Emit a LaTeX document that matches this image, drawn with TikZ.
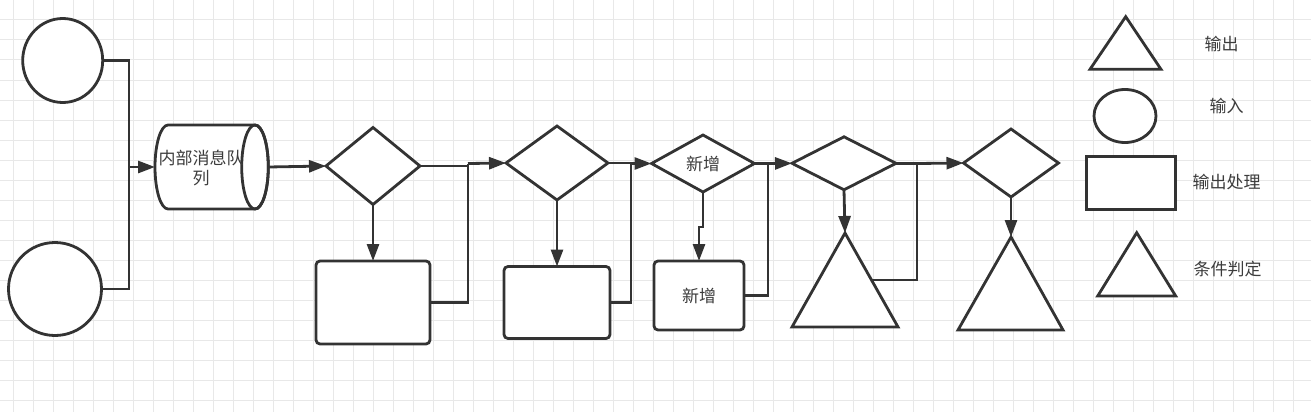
\documentclass[tikz,border=0pt]{standalone}
\usepackage{fontspec}
\newfontfamily\cjk{Noto Sans CJK SC}
\usetikzlibrary{shapes.geometric,arrows.meta,calc}
\definecolor{ink}{HTML}{333333}
\definecolor{txt}{HTML}{3C3C3C}
\definecolor{gridc}{HTML}{E8E8E8}
\begin{document}
\begin{tikzpicture}[x=1pt,y=-1pt,
  shp/.style={draw=ink, line width=2.8pt, fill=white, inner sep=0pt, outer sep=0pt},
  dia/.style={shp, diamond},
  box/.style={shp, rectangle, rounded corners=4pt},
  conn/.style={draw=ink, line width=2.8pt},
  arr/.style={conn, -{Triangle[length=17pt,width=12pt]}},
  tri/.style={conn, fill=white, line join=miter},
  lbl/.style={font=\cjk\fontsize{17}{20}\selectfont, text=txt, inner sep=0pt},
]
% background and grid
\fill[white] (0,0) rectangle (1311,412);
\useasboundingbox (0,0) rectangle (1311,412);
\foreach \i in {0,...,64} \draw[gridc, line width=1pt] ({13.3+20*\i},0) -- ++(0,412);
\foreach \j in {1,...,20} \draw[gridc, line width=1pt] (0,{20*\j}) -- ++(1311,0);

% inputs
\node[shp, ellipse, minimum width=80, minimum height=84] (in1) at (62.7,60.5) {};
\node[shp, ellipse, minimum width=93, minimum height=93] (in2) at (55,289) {};

% queue (horizontal cylinder)
\draw[conn, fill=white] (255,125) -- (168,125)
  arc[start angle=270, end angle=90, x radius=13, y radius=42] -- (255,209)
  arc[start angle=90, end angle=-90, x radius=13.3, y radius=42] -- cycle;
\draw[conn] (255,167) ellipse[x radius=13.3, y radius=42];
\coordinate (queueW) at (155,167);
\coordinate (queueE) at (268.3,167);
\node[lbl, align=center] (qtext) at (201,168) {内部消息队\\列};

% diamonds
\node[dia, minimum width=94, minimum height=77] (d1) at (373,166) {};
\node[dia, minimum width=102, minimum height=74] (d2) at (557,163) {};
\node[dia, minimum width=103, minimum height=57, lbl, draw=ink, line width=2.8pt, fill=white] (d3) at (703,163.5) {新增};
\node[dia, minimum width=104, minimum height=53] (d4) at (844,163.3) {};
\node[dia, minimum width=95, minimum height=68] (d5) at (1011,163) {};

% boxes
\node[box, minimum width=114, minimum height=83] (r1) at (373,302.5) {};
\node[box, minimum width=106, minimum height=72] (r2) at (557,302.5) {};
\node[box, minimum width=90, minimum height=69, lbl, draw=ink, line width=2.8pt, fill=white] (r3) at (699,295.5) {新增};

% triangles
\draw[tri] (845,233) coordinate (t1top) -- (898,327) coordinate (t1br) -- (792,327) coordinate (t1bl) -- cycle;
\draw[tri] (1011,237) coordinate (t2top) -- (1063,330) coordinate (t2br) -- (958,330) coordinate (t2bl) -- cycle;
\coordinate (t1side) at ($(t1top)!0.5!(t1br)$);

% junctions
\coordinate (j1) at (129,167);
\coordinate (j2) at (468,163.5);
\coordinate (j3) at (631,163.5);
\coordinate (j3a) at (703,227);
\coordinate (j4) at (768,163.5);
\coordinate (j5) at (917,163.5);

% connectors
\draw[conn] (in1.east) -| (j1);
\draw[conn] (in2.east) -| (j1);
\draw[arr] (j1) -- (queueW);
\draw[arr] (queueE) -- (d1.west);

\draw[arr] (d1.south) -- (r1.north);
\draw[conn] (d1.east) -- (d1.east -| j2);
\draw[conn] (r1.east) -| (j2);
\draw[arr] (j2) -- (d2.west);

\draw[arr] (d2.south) -- (r2.north);
\draw[conn] (d2.east) -- (d2.east -| j3);
\draw[conn] (r2.east) -| (j3);
\draw[arr] (j3) -- (d3.west);

\draw[arr] (d3.south) -- (j3a) -| (r3.north);
\draw[conn] (d3.east) -- (d3.east -| j4);
\draw[conn] (r3.east) -| (j4);
\draw[arr] (j4) -- (d4.west);

\draw[arr] (d4.south) -- (t1top);
\draw[conn] (d4.east) -- (d4.east -| j5);
\draw[conn] (t1side) -| (j5);
\draw[arr] (j5) -- (d5.west);

\draw[arr] (d5.south) -- (t2top);

% legend
\draw[tri] (1125.7,16.7) coordinate (lt1top) -- (1161,69.3) -- (1090,69.3) -- cycle;
\node[shp, ellipse, minimum width=62, minimum height=53] (lell) at (1125,116) {};
\node[shp, rectangle, minimum width=89, minimum height=53] (lrect) at (1131,183) {};
\draw[tri] (1136.7,232.7) coordinate (lt2top) -- (1175.7,296) -- (1097.7,296) -- cycle;
\node[lbl] (lout) at (1221.5,44) {输出};
\node[lbl] (lin) at (1226.7,106) {输入};
\node[lbl] (lproc) at (1226.7,181.7) {输出处理};
\node[lbl] (lcond) at (1227.7,269) {条件判定};
\end{tikzpicture}
\end{document}
